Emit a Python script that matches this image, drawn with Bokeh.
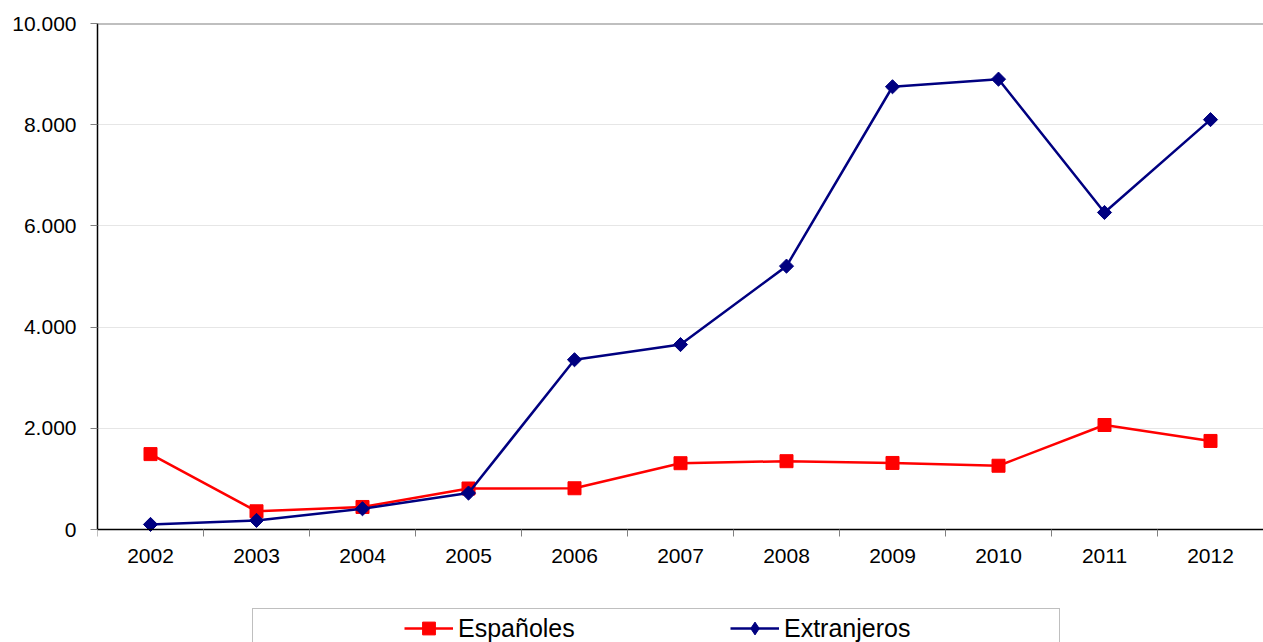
import math
from bokeh.plotting import figure
from bokeh.models import FixedTicker, Legend, LegendItem, Range1d, Span
from bokeh.embed import file_html
from bokeh.resources import INLINE

# ---- data ----
years = [2002, 2003, 2004, 2005, 2006, 2007, 2008, 2009, 2010, 2011, 2012]
espanoles = [1490, 360, 445, 810, 815, 1310, 1350, 1315, 1260, 2065, 1750]
extranjeros = [100, 180, 410, 720, 3355, 3655, 5205, 8750, 8900, 6265, 8100]
y_ticks = [0, 2000, 4000, 6000, 8000, 10000]
y_tick_labels = ["0", "2.000", "4.000", "6.000", "8.000", "10.000"]
series_names = ["Españoles", "Extranjeros"]

FONT = "Liberation Sans"
RED = "#FF0000"
NAVY = "#000080"

# layout: plot area spans 10.000 at y=23 down to 0 at y=529; the frame continues
# to the bottom of the canvas so that the legend (drawn below 0) is not clipped
W, H = 1263, 642
TOP, ZERO_Y = 23, 529
y_lo = -y_ticks[-1] * (H - ZERO_Y) / (ZERO_Y - TOP)

p = figure(width=W, height=H, output_backend="svg", toolbar_location=None,
           x_range=Range1d(years[0] - 0.5, years[-1] + 0.5),
           y_range=Range1d(y_lo, y_ticks[-1]),
           min_border_left=97, min_border_right=0, min_border_top=TOP,
           min_border_bottom=0)
p.background_fill_color = "white"
p.border_fill_color = "white"
p.outline_line_color = None

# x axis placed at y = 0: labels at centres, ticks at category boundaries
p.xaxis.fixed_location = y_ticks[0]
p.xaxis.ticker = FixedTicker(ticks=years,
                             minor_ticks=[y - 0.5 for y in years] + [years[-1] + 0.5])
p.xaxis.major_tick_line_color = None
p.xaxis.major_tick_out = 0
p.xaxis.major_tick_in = 0
p.xaxis.minor_tick_line_color = "#808080"
p.xaxis.minor_tick_out = 7
p.xaxis.minor_tick_in = 0
p.xaxis.axis_line_color = "black"
p.xaxis.axis_line_width = 1.5
p.xaxis.major_label_text_font = FONT
p.xaxis.major_label_text_font_size = "21px"
p.xaxis.major_label_text_color = "black"
p.xaxis.major_label_standoff = 12

# y axis limited to 0..10.000
p.yaxis.bounds = (y_ticks[0], y_ticks[-1])
p.yaxis.ticker = FixedTicker(ticks=y_ticks)
p.yaxis.major_label_overrides = dict(zip(y_ticks, y_tick_labels))
p.yaxis.minor_tick_line_color = None
p.yaxis.major_tick_out = 7
p.yaxis.major_tick_in = 0
p.yaxis.major_tick_line_color = "#808080"
p.yaxis.axis_line_color = "black"
p.yaxis.axis_line_width = 1.5
p.yaxis.major_label_text_font = FONT
p.yaxis.major_label_text_font_size = "21px"
p.yaxis.major_label_text_color = "black"
p.yaxis.major_label_standoff = 14

p.xgrid.visible = False
p.ygrid.ticker = FixedTicker(ticks=y_ticks[1:-1])
p.ygrid.grid_line_color = "#e6e6e6"
p.ygrid.grid_line_width = 1

# top border of the plot area
p.add_layout(Span(location=y_ticks[-1], dimension="width",
                  line_color="#808080", line_width=2))

# series
es_line = p.line(years, espanoles, line_color=RED, line_width=2.5)
es_pts = p.scatter(years, espanoles, marker="square", size=13,
                   fill_color=RED, line_color=RED)
ex_line = p.line(years, extranjeros, line_color=NAVY, line_width=2.5)
ex_pts = p.scatter(years, extranjeros, marker="square", angle=math.pi / 4, size=10,
                   fill_color=NAVY, line_color=NAVY)
# legend-only diamond symbol (legend glyphs are never rotated); hidden in the plot
ex_key = p.scatter(years, extranjeros, marker="diamond",
                   fill_color=NAVY, line_color=NAVY, visible=False)

# legend frame (decorative box under the two legend entries)
dummy = p.line(x=[], y=[], line_alpha=0)
box = Legend(items=[LegendItem(label=" ", renderers=[dummy])],
             location=(155, -10), orientation="horizontal",
             padding=0, spacing=0, margin=0,
             glyph_width=800, glyph_height=42, label_standoff=0,
             label_width=6, label_height=42, label_text_font_size="10px",
             border_line_color="#808080", border_line_width=1,
             background_fill_color="white", background_fill_alpha=1)
p.add_layout(box)

leg_a = Legend(items=[LegendItem(label=series_names[0], renderers=[es_line, es_pts])],
               location=(307, -2), orientation="horizontal",
               padding=0, spacing=0, margin=0,
               glyph_width=49, glyph_height=32, label_standoff=5, label_height=32,
               label_text_font=FONT, label_text_font_size="25px",
               label_text_color="black",
               border_line_alpha=0, background_fill_alpha=0)
leg_b = Legend(items=[LegendItem(label=series_names[1], renderers=[ex_line, ex_key])],
               location=(633, -2), orientation="horizontal",
               padding=0, spacing=0, margin=0,
               glyph_width=49, glyph_height=32, label_standoff=5, label_height=32,
               label_text_font=FONT, label_text_font_size="25px",
               label_text_color="black",
               border_line_alpha=0, background_fill_alpha=0)
p.add_layout(leg_a)
p.add_layout(leg_b)

open("out.html", "w").write(file_html(p, INLINE))
